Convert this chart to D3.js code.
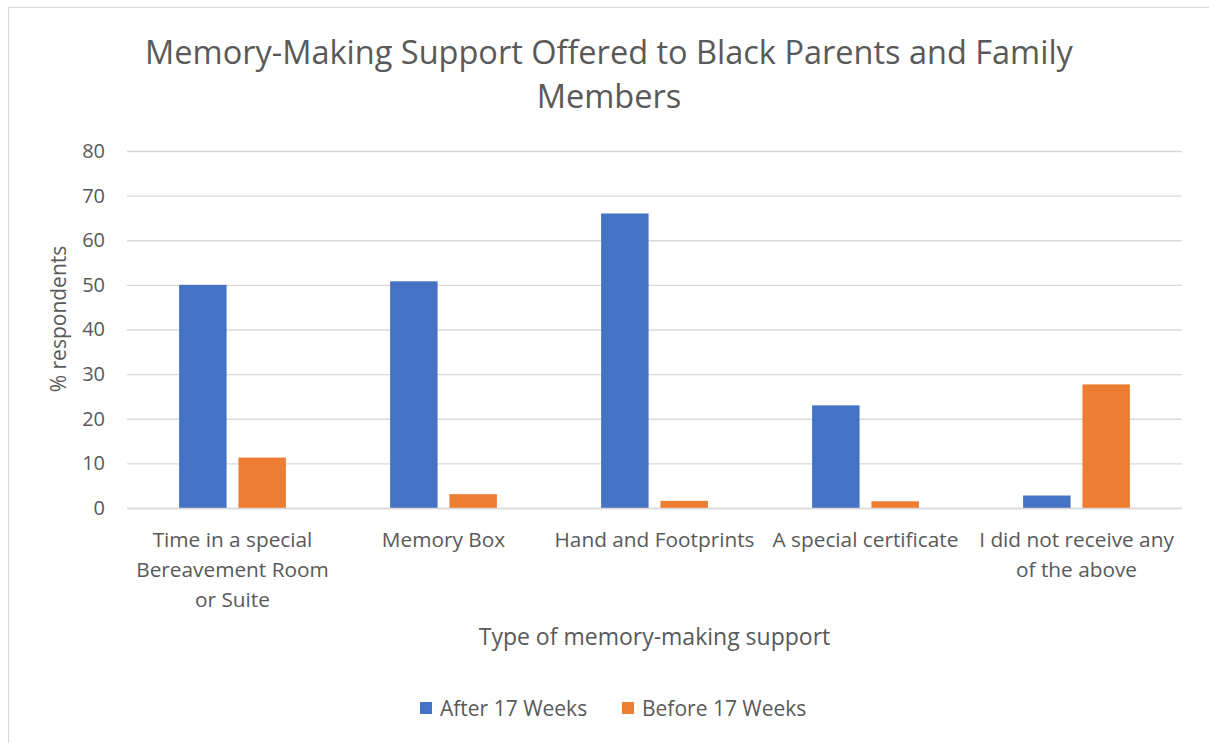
<!DOCTYPE html>
<html><head><meta charset="utf-8">
<script src="https://cdn.jsdelivr.net/npm/d3@7"></script>
<style>body{margin:0;background:#fff;} svg{display:block;}</style>
</head><body>
<svg id="c" width="1209" height="743"></svg>
<script>
const categories = ["Time in a special Bereavement Room or Suite","Memory Box","Hand and Footprints","A special certificate","I did not receive any of the above"];
const categoryLines = [["Time in a special","Bereavement Room","or Suite"],["Memory Box"],["Hand and Footprints"],["A special certificate"],["I did not receive any","of the above"]];
const seriesNames = ["After 17 Weeks","Before 17 Weeks"];
const after17 = [50, 50.8, 66, 23, 2.8];
const before17 = [11.3, 3.1, 1.6, 1.5, 27.7];
const yTicks = [0,10,20,30,40,50,60,70,80];
const colors = ["#4472C4","#ED7D31"];
const title = ["Memory-Making Support Offered to Black Parents and Family","Members"];
const yTitle = "% respondents";
const xTitle = "Type of memory-making support";

const font = "'Open Sans', 'Liberation Sans', sans-serif";
const svg = d3.select("#c").style("font-family", font);
svg.append("rect").attr("x",8.5).attr("y",7.5).attr("width",1210).attr("height",740)
  .attr("fill","#fff").attr("stroke","#d9d9d9");

const L=127,R=1182,T=151,B=508;
const y = d3.scaleLinear().domain([0,80]).range([B,T]);
const x0 = d3.scaleBand().domain(categories).range([L,R]).padding(0);
const bw0 = x0.bandwidth();
const x1 = d3.scaleBand().domain(seriesNames).range([bw0*0.247, bw0*0.753]).paddingInner(0.2);

// gridlines
const yAxis = d3.axisLeft(y).tickValues(yTicks).tickSize(-(R-L)).tickPadding(22);
const ga = svg.append("g").attr("transform",`translate(${L},0)`).call(yAxis);
ga.select(".domain").remove();
ga.selectAll(".tick line").attr("stroke","#d9d9d9").attr("stroke-width",1.3);
ga.selectAll(".tick text").attr("fill","#595959").attr("font-size",20).attr("font-family",font);

// bars
const data = categories.map((c,i)=>({c, vals:[after17[i], before17[i]]}));
const g = svg.append("g");
data.forEach(d=>{
  d.vals.forEach((v,j)=>{
    g.append("rect")
      .attr("x", x0(d.c)+x1(seriesNames[j]))
      .attr("y", y(v))
      .attr("width", x1.bandwidth())
      .attr("height", y(0)-y(v))
      .attr("fill", colors[j]);
  });
});

// x axis line (baseline)
svg.append("line").attr("x1",L).attr("x2",R).attr("y1",B+0.5).attr("y2",B+0.5).attr("stroke","#d9d9d9").attr("stroke-width",1.3);

// category labels
categories.forEach((c,i)=>{
  const t = svg.append("text").attr("text-anchor","middle").attr("fill","#595959").attr("font-size",20.8)
    .attr("x", x0(c)+bw0/2).attr("y", 547);
  categoryLines[i].forEach((ln,k)=>{
    t.append("tspan").attr("x", x0(c)+bw0/2).attr("dy", k===0?0:30).text(ln);
  });
});

// titles
const tt = svg.append("text").attr("text-anchor","middle").attr("fill","#595959").attr("font-size",32.5);
title.forEach((ln,k)=>tt.append("tspan").attr("x",609).attr("y",64+k*44).text(ln));

svg.append("text").attr("text-anchor","middle").attr("fill","#595959").attr("font-size",21)
  .attr("transform","translate(66,319) rotate(-90)").text(yTitle);
svg.append("text").attr("text-anchor","middle").attr("fill","#595959").attr("font-size",23)
  .attr("x",(L+R)/2).attr("y",645).text(xTitle);

// legend
const legX = [420, 622];
seriesNames.forEach((s,j)=>{
  svg.append("rect").attr("x",legX[j]).attr("y",702).attr("width",12).attr("height",12).attr("fill",colors[j]);
  svg.append("text").attr("x",legX[j]+20).attr("y",716).attr("fill","#595959").attr("font-size",21).text(s);
});
</script>
</body></html>
